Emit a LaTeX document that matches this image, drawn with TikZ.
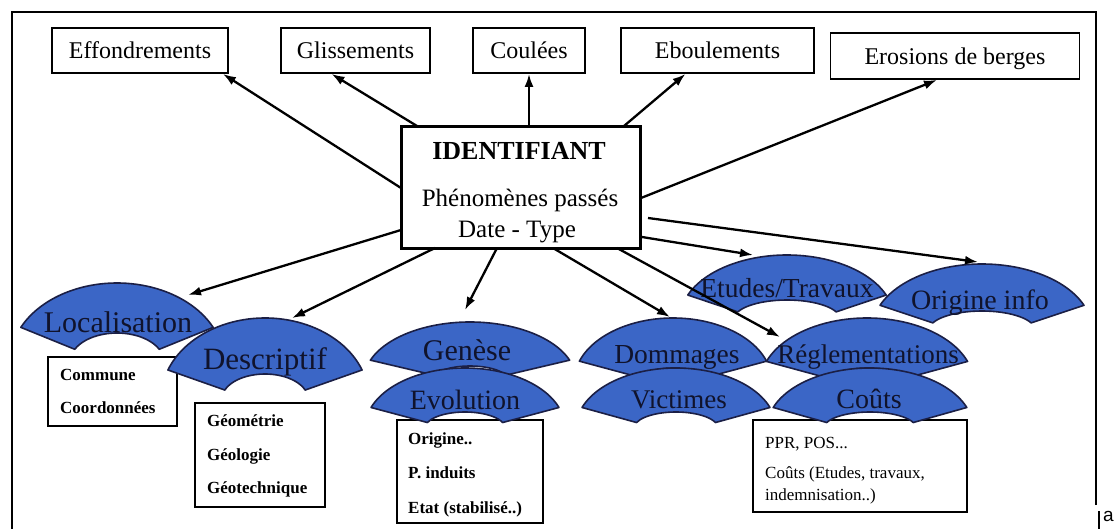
\documentclass[tikz,border=0pt]{standalone}
\usepackage{fontspec}
\setmainfont{Liberation Serif}
\setsansfont{Liberation Sans}
\usetikzlibrary{arrows.meta,calc}
\definecolor{fanblue}{HTML}{3B66C6}
\definecolor{fanline}{HTML}{1B1F45}
\definecolor{fantextc}{HTML}{10132C}
\tikzset{
 topbox/.style={draw, line width=1.8pt, minimum height=45pt, inner sep=0pt, text height=16pt, text depth=0pt, font=\fontsize{24}{28}\selectfont},
 infobox/.style={draw, line width=1.4pt, fill=white, inner sep=0pt},
 infotext/.style={anchor=base west, inner sep=0pt, font=\fontsize{17}{20}\selectfont\bfseries},
 pprtext/.style={anchor=base west, inner sep=0pt, font=\fontsize{17}{20}\selectfont},
 fanshape/.style={fill=fanblue, draw=fanline, line width=1.6pt, line join=round},
 fantext/.style={anchor=base, inner sep=0pt, text=fantextc},
 link/.style={line width=2.3pt, -{Latex[length=13pt,width=9pt]}},
}
% #1 cx, #2 cy (pixels, downward), #3 A, #4 B, #5 a, #6 b, #7 half angle
\newcommand\fanpath[7]{%
  \filldraw[fanshape] ([shift={(90-#7:#3 and #4)}]#1,-#2)
    arc[start angle=90-#7, end angle=90+#7, x radius=#3, y radius=#4]
    -- ([shift={(90+#7:#5 and #6)}]#1,-#2)
    arc[start angle=90+#7, end angle=90-#7, x radius=#5, y radius=#6]
    -- cycle;}
\begin{document}
\begin{tikzpicture}[x=1pt,y=1pt]
\useasboundingbox (0,0) rectangle (1120,-528);
\clip (0,0) rectangle (1120,-528);
% frame
\draw[line width=1.8pt] (1096,-505) -- (1096,-12) -- (12,-12) -- (12,-530);
\draw[line width=2pt] (1099,-511) -- (1099,-530);
\node[font=\sffamily\fontsize{19}{22}\selectfont, anchor=base west, inner sep=0pt] (frag) at (1103,-521) {a};

% top boxes
\node[topbox, minimum width=176pt] (eff) at (140,-50.5) {Effondrements};
\node[topbox, minimum width=149pt] (glis) at (355.5,-50.5) {Glissements};
\node[topbox, minimum width=112pt] (coul) at (529,-50.5) {Coulées};
\node[topbox, minimum width=193pt] (ebou) at (717.5,-50.5) {Eboulements};
\node[topbox, minimum width=249pt, minimum height=46pt] (eros) at (955,-56) {Erosions de berges};

% central box
\node[draw, line width=3pt, minimum width=239pt, minimum height=122pt, inner sep=0pt] (id) at (520.5,-187) {};
\node[anchor=base, inner sep=0pt, font=\fontsize{26}{30}\selectfont\bfseries] (idT) at (519,-159) {IDENTIFIANT};
\node[anchor=base, inner sep=0pt, font=\fontsize{25}{30}\selectfont] (idP) at (520,-206) {Phénomènes passés};
\node[anchor=base, inner sep=0pt, font=\fontsize{25}{30}\selectfont] (idD) at (517,-237) {Date - Type};

% Localisation
\fanpath{117}{362}{107}{79}{47}{29}{64}
\node[fantext, font=\fontsize{30}{34}\selectfont] (loc) at (118,-332) {Localisation};
\node[infobox, minimum width=129pt, minimum height=69pt] (comBox) at (112.5,-391.5) {};
\node[infotext] (com1) at (60,-380) {Commune};
\node[infotext] (com2) at (60,-413) {Coordonnées};

% Descriptif
\fanpath{265}{399}{104}{81}{43}{25}{69}
\node[fantext, font=\fontsize{31}{34}\selectfont] (desc) at (265,-369) {Descriptif};
\node[infobox, minimum width=130pt, minimum height=104pt] (geoBox) at (260,-455) {};
\node[infotext] (geo1) at (207,-426) {Géométrie};
\node[infotext] (geo2) at (207,-460) {Géologie};
\node[infotext] (geo3) at (207,-493) {Géotechnique};

% Genese / Evolution
\fanpath{470}{380}{106}{58}{38}{14}{70}
\node[fantext, font=\fontsize{30}{34}\selectfont] (gen) at (467,-360) {Genèse};
\node[infobox, minimum width=146pt, minimum height=103pt] (evoBox) at (470,-471.5) {};
\node[infotext] (evo1) at (408,-444) {Origine..};
\node[infotext] (evo2) at (408,-478) {P. induits};
\node[infotext] (evo3) at (408,-513) {Etat (stabilisé..)};
\fanpath{465}{428}{100}{60}{40}{16}{70}
\node[fantext, font=\fontsize{28}{32}\selectfont] (evo) at (465,-409) {Evolution};

% Dommages / Victimes
\fanpath{673}{382}{99}{64}{35}{14}{71}
\node[fantext, font=\fontsize{27.5}{32}\selectfont] (dom) at (677,-363) {Dommages};
\fanpath{676}{428}{100}{60}{42}{16}{70}
\node[fantext, font=\fontsize{27}{32}\selectfont] (vic) at (679,-408) {Victimes};

% Reglementations / Couts
\fanpath{867}{384}{107}{66}{40}{16}{70}
\node[fantext, font=\fontsize{27}{32}\selectfont] (reg) at (868,-363) {Réglementations};
\node[infobox, minimum width=214pt, minimum height=92pt] (pprBox) at (860,-466) {};
\node[pprtext] (ppr1) at (765,-448) {PPR, POS...};
\node[pprtext] (ppr2) at (765,-478) {Coûts (Etudes, travaux,};
\node[pprtext] (ppr3) at (765,-500) {indemnisation..)};
\fanpath{870}{428}{103}{60}{46}{16}{70}
\node[fantext, font=\fontsize{28}{32}\selectfont] (cou) at (869,-408) {Coûts};

% Etudes / Origine
\fanpath{787}{319}{107}{64}{53}{19}{68}
\node[fantext, font=\fontsize{27.5}{32}\selectfont] (etu) at (787,-297) {Etudes/Travaux};
\fanpath{982}{330}{110}{66}{53}{19}{68}
\node[fantext, font=\fontsize{28}{32}\selectfont] (ori) at (980,-309) {Origine info};

% connector end points
\coordinate (sEff) at (401,-188);
\coordinate (sGli) at (417,-126);
\coordinate (sEbo) at (624,-126);
\coordinate (sEro) at (641,-198);
\coordinate (sOri) at (648,-218);
\coordinate (sEtu) at (642,-237);
\coordinate (sReg) at (617,-248);
\coordinate (sDom) at (553,-248);
\coordinate (sGen) at (497,-248);
\coordinate (sDes) at (435,-248);
\coordinate (sLoc) at (401,-230);
\coordinate (tOri) at (978,-262);
\coordinate (tEtu) at (753,-255);
\coordinate (tReg) at (780,-337);
\coordinate (tDom) at (670,-317);
\coordinate (tGen) at (465,-310);
\coordinate (tDes) at (292,-318);
\coordinate (tLoc) at (188,-295);

\draw[link] (sEff) -- ([xshift=-6pt]eff.south east);
\draw[link] (sGli) -- ([xshift=-24pt]glis.south);
\draw[link] (id.north -| coul.south) -- (coul.south);
\draw[link] (sEbo) -- ([xshift=-32pt]ebou.south);
\draw[link] (sEro) -- ([xshift=-18pt]eros.south);
\draw[link] (sOri) -- (tOri);
\draw[link] (sEtu) -- (tEtu);
\draw[link] (sReg) -- (tReg);
\draw[link] (sDom) -- (tDom);
\draw[link] (sGen) -- (tGen);
\draw[link] (sDes) -- (tDes);
\draw[link] (sLoc) -- (tLoc);
\end{tikzpicture}
\end{document}
